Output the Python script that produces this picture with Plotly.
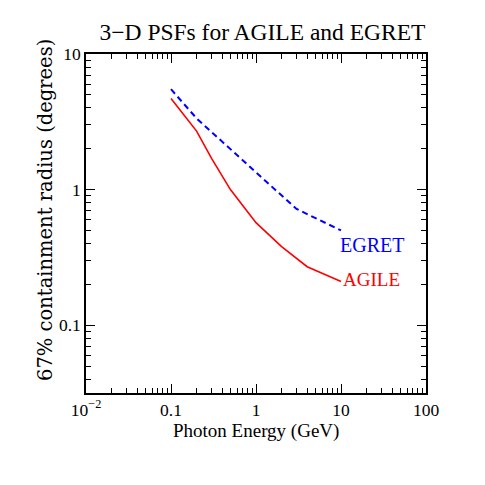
"""3-D PSF comparison for AGILE and EGRET"""
import plotly.graph_objects as go

# photon energy (GeV) and 67% containment radius (degrees)
energy_agile = [0.1, 0.2, 0.3, 0.5, 1, 2, 4, 10]
psf_agile = [4.7, 2.7, 1.7, 1.0, 0.57, 0.38, 0.27, 0.21]

energy_egret = [0.1, 0.2, 1, 3, 10]
psf_egret = [5.5, 3.35, 1.34, 0.72, 0.5]

x_major = [0.01, 0.1, 1, 10, 100]
x_major_text = ["10<sup>\u22122</sup>", "0.1", "1", "10", "100"]
y_major = [0.1, 1, 10]
y_major_text = ["0.1", "1", "10"]

x_minor = [m * 10 ** e for e in range(-2, 2) for m in range(2, 10)]
y_minor = [m * 10 ** e for e in range(-2, 1) for m in range(2, 10)]
y_minor = [v for v in y_minor if v > 0.0316]

SERIF = "Liberation Serif"

fig = go.Figure()

fig.add_trace(go.Scatter(
    x=energy_egret, y=psf_egret, mode="lines", name="EGRET",
    line=dict(color="#0000ff", width=2, dash="6px,4px")
))
fig.add_trace(go.Scatter(
    x=energy_agile, y=psf_agile, mode="lines", name="AGILE",
    line=dict(color="#ff0000", width=1.6)
))

# curve labels
fig.add_annotation(x=1.365, y=-0.407, text="EGRET", showarrow=False,
                   font=dict(family=SERIF, size=20, color="#0000ff"))
fig.add_annotation(x=1.361, y=-0.66, text="AGILE", showarrow=False,
                   font=dict(family=SERIF, size=19, color="#ff0000"))

# axis titles as annotations for exact placement
fig.add_annotation(xref="paper", yref="paper", x=0, xshift=-40, y=0.54,
                   text="67% containment radius (degrees)", showarrow=False,
                   textangle=-90, xanchor="center", yanchor="middle",
                   font=dict(family="DejaVu Serif", size=19.5, color="black"))
fig.add_annotation(xref="paper", yref="paper", x=0.5, y=0, yshift=-38,
                   text="Photon Energy (GeV)", showarrow=False,
                   xanchor="center", yanchor="middle",
                   font=dict(family=SERIF, size=19, color="black"))

axis_common = dict(
    type="log", showgrid=False, zeroline=False,
    showline=True, linecolor="black", linewidth=1.5, mirror="ticks",
    ticks="inside", ticklen=9, tickwidth=1, tickcolor="black",
    tickfont=dict(family=SERIF, size=17.5, color="black"),
)

fig.update_xaxes(
    **axis_common,
    range=[-2, 2],
    tickmode="array", tickvals=x_major, ticktext=x_major_text,
    minor=dict(tickmode="array", tickvals=x_minor, ticks="inside",
               ticklen=5, tickwidth=1, tickcolor="black"),
)
fig.update_yaxes(
    **axis_common,
    range=[-1.5, 1],
    tickmode="array", tickvals=y_major, ticktext=y_major_text,
    minor=dict(tickmode="array", tickvals=y_minor, ticks="inside",
               ticklen=5, tickwidth=1, tickcolor="black"),
)

# page body adds an 8px offset, so margins are shifted to compensate
fig.update_layout(
    width=485, height=485,
    margin=dict(l=78, r=67, t=46, b=100),
    paper_bgcolor="white", plot_bgcolor="white",
    showlegend=False,
    title=dict(text="3\u2212D PSFs for AGILE and EGRET",
               x=254.5 / 485, xanchor="center", y=0.9515, yanchor="middle",
               font=dict(family=SERIF, size=23.5, color="black")),
)

fig.write_html("out.html")
